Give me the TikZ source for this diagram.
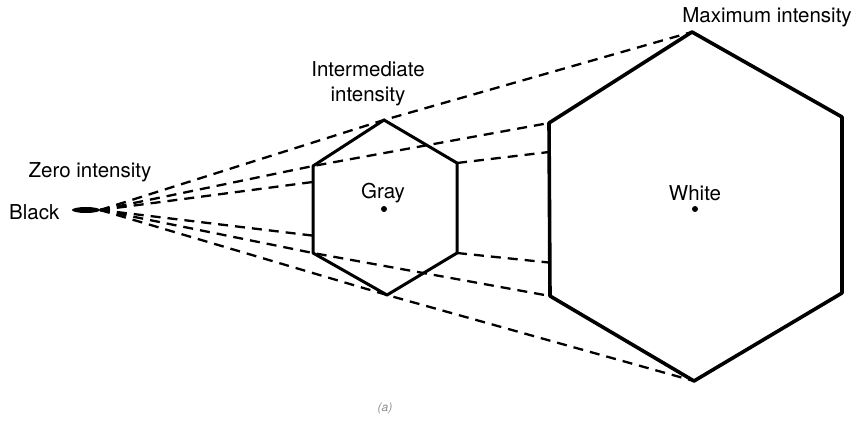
\documentclass[tikz,border=0pt]{standalone}
\usepackage{fontspec}
\setmainfont{TeX Gyre Heros}
\usetikzlibrary{shapes.geometric}

\begin{document}
\begin{tikzpicture}[
  x=1pt,y=-1pt,
  hexline/.style={line width=3pt,line join=round},
  bighex/.style={hexline,line width=3.6pt},
  ray/.style={line width=2.3pt,dash pattern=on 10pt off 7pt},
  lbl/.style={inner sep=0pt,font=\fontsize{20.5}{25}\selectfont,align=center},
  cdot/.style={circle,fill,inner sep=0pt,minimum size=6pt}
]
\useasboundingbox (0,0) rectangle (859,427);

\coordinate (apex) at (100,210);
\coordinate (s1) at (384,120);
\coordinate (s2) at (457,163);
\coordinate (s3) at (457,253);
\coordinate (s4) at (387,295);
\coordinate (s5) at (313,253);
\coordinate (s6) at (313,166);
\coordinate (L1) at (692,32);
\coordinate (L2) at (842,117);
\coordinate (L3) at (842,293);
\coordinate (L4) at (694,381);
\coordinate (L5) at (550,296);
\coordinate (L6) at (549,123);

\draw[ray] (apex) -- (s1) -- (L1);
\draw[ray] (apex) -- (s6) -- (L6);
\draw[ray] (apex) -- (s5) -- (L5);
\draw[ray] (apex) -- (s4) -- (L4);
\draw[ray] (apex) -- (intersection of apex--s2 and s6--s5);
\draw[ray] (apex) -- (intersection of apex--s3 and s6--s5);
\draw[ray] (s2) -- (intersection of s2--L2 and L6--L5);
\draw[ray] (s3) -- (intersection of s3--L3 and L6--L5);

\draw[hexline] (s1) -- (s2) -- (s3) -- (s4) -- (s5) -- (s6) -- cycle;
\draw[bighex] (L1) -- (L2) -- (L3) -- (L4) -- (L5) -- (L6) -- cycle;

\node[ellipse,fill,minimum width=28pt,minimum height=6pt,inner sep=0pt] (blackpt) at (86,210) {};
\node[lbl,anchor=west] (black) at (9,212) {Black};
\node[lbl] (zero) at (90,172) {Zero intensity};
\node[lbl] (inter) at (368,84) {Intermediate\\intensity};
\node[lbl] (maxint) at (767,17) {Maximum intensity};

\node[cdot] (graydot) at (384,209) {};
\node[lbl] (gray) at (383,193) {Gray};
\node[cdot] (whitedot) at (695,209) {};
\node[lbl] (white) at (695,193) {White};

\node[font=\fontsize{12}{14}\selectfont\itshape,text=black!45] (caption) at (385,408) {(a)};
\end{tikzpicture}
\end{document}
